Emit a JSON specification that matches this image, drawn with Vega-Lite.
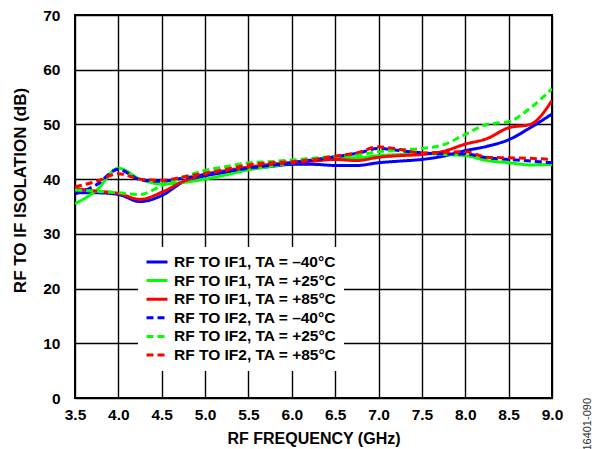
{
  "$schema": "https://vega.github.io/schema/vega-lite/v6.json",
  "autosize": "none",
  "width": 477,
  "height": 383,
  "padding": {"left": 75, "top": 15, "right": 47, "bottom": 51},
  "background": "white",
  "title": {"text": "16401-090", "orient": "right", "anchor": "end", "frame": "group", "angle": -90, "fontSize": 11, "fontWeight": "normal", "font": "Liberation Sans", "color": "#333", "offset": 20, "dy": -12},
  "datasets": {
    "curves": [
      {"f":3.5,"v":37.5,"s":"IF1 -40"},{"f":3.75,"v":37.5,"s":"IF1 -40"},{"f":4.0,"v":37.2,"s":"IF1 -40"},{"f":4.25,"v":35.9,"s":"IF1 -40"},{"f":4.5,"v":37.0,"s":"IF1 -40"},{"f":4.75,"v":39.5,"s":"IF1 -40"},{"f":5.0,"v":40.6,"s":"IF1 -40"},{"f":5.25,"v":41.3,"s":"IF1 -40"},{"f":5.5,"v":41.9,"s":"IF1 -40"},{"f":5.75,"v":42.3,"s":"IF1 -40"},{"f":6.0,"v":42.7,"s":"IF1 -40"},{"f":6.25,"v":42.7,"s":"IF1 -40"},{"f":6.5,"v":42.5,"s":"IF1 -40"},{"f":6.75,"v":42.5,"s":"IF1 -40"},{"f":7.0,"v":43.0,"s":"IF1 -40"},{"f":7.25,"v":43.3,"s":"IF1 -40"},{"f":7.5,"v":43.6,"s":"IF1 -40"},{"f":7.75,"v":44.2,"s":"IF1 -40"},{"f":8.0,"v":45.2,"s":"IF1 -40"},{"f":8.25,"v":46.0,"s":"IF1 -40"},{"f":8.5,"v":47.2,"s":"IF1 -40"},{"f":8.75,"v":49.4,"s":"IF1 -40"},{"f":9.0,"v":51.9,"s":"IF1 -40"},

      {"f":3.5,"v":35.5,"s":"IF1 +25"},{"f":3.75,"v":38.0,"s":"IF1 +25"},{"f":4.0,"v":42.0,"s":"IF1 +25"},{"f":4.25,"v":40.0,"s":"IF1 +25"},{"f":4.5,"v":39.1,"s":"IF1 +25"},{"f":4.75,"v":39.4,"s":"IF1 +25"},{"f":5.0,"v":40.0,"s":"IF1 +25"},{"f":5.25,"v":40.8,"s":"IF1 +25"},{"f":5.5,"v":41.7,"s":"IF1 +25"},{"f":5.75,"v":42.3,"s":"IF1 +25"},{"f":6.0,"v":43.0,"s":"IF1 +25"},{"f":6.25,"v":43.5,"s":"IF1 +25"},{"f":6.5,"v":44.0,"s":"IF1 +25"},{"f":6.75,"v":43.9,"s":"IF1 +25"},{"f":7.0,"v":44.3,"s":"IF1 +25"},{"f":7.25,"v":44.5,"s":"IF1 +25"},{"f":7.5,"v":44.7,"s":"IF1 +25"},{"f":7.75,"v":44.5,"s":"IF1 +25"},{"f":8.0,"v":44.3,"s":"IF1 +25"},{"f":8.25,"v":43.4,"s":"IF1 +25"},{"f":8.5,"v":43.0,"s":"IF1 +25"},{"f":8.75,"v":42.6,"s":"IF1 +25"},{"f":9.0,"v":42.7,"s":"IF1 +25"},

      {"f":3.5,"v":38.3,"s":"IF1 +85"},{"f":3.75,"v":37.8,"s":"IF1 +85"},{"f":4.0,"v":37.4,"s":"IF1 +85"},{"f":4.25,"v":36.3,"s":"IF1 +85"},{"f":4.5,"v":37.6,"s":"IF1 +85"},{"f":4.75,"v":39.6,"s":"IF1 +85"},{"f":5.0,"v":40.9,"s":"IF1 +85"},{"f":5.25,"v":41.6,"s":"IF1 +85"},{"f":5.5,"v":42.2,"s":"IF1 +85"},{"f":5.75,"v":42.7,"s":"IF1 +85"},{"f":6.0,"v":43.0,"s":"IF1 +85"},{"f":6.25,"v":43.3,"s":"IF1 +85"},{"f":6.5,"v":43.6,"s":"IF1 +85"},{"f":6.75,"v":43.4,"s":"IF1 +85"},{"f":7.0,"v":44.0,"s":"IF1 +85"},{"f":7.25,"v":44.3,"s":"IF1 +85"},{"f":7.5,"v":44.5,"s":"IF1 +85"},{"f":7.75,"v":45.1,"s":"IF1 +85"},{"f":8.0,"v":46.4,"s":"IF1 +85"},{"f":8.25,"v":47.4,"s":"IF1 +85"},{"f":8.5,"v":49.4,"s":"IF1 +85"},{"f":8.75,"v":50.0,"s":"IF1 +85"},{"f":9.0,"v":54.4,"s":"IF1 +85"},

      {"f":3.5,"v":37.3,"s":"IF2 -40"},{"f":3.75,"v":39.0,"s":"IF2 -40"},{"f":4.0,"v":41.8,"s":"IF2 -40"},{"f":4.25,"v":39.9,"s":"IF2 -40"},{"f":4.5,"v":39.6,"s":"IF2 -40"},{"f":4.75,"v":40.2,"s":"IF2 -40"},{"f":5.0,"v":40.8,"s":"IF2 -40"},{"f":5.25,"v":41.4,"s":"IF2 -40"},{"f":5.5,"v":42.0,"s":"IF2 -40"},{"f":5.75,"v":42.5,"s":"IF2 -40"},{"f":6.0,"v":43.0,"s":"IF2 -40"},{"f":6.25,"v":43.5,"s":"IF2 -40"},{"f":6.5,"v":44.1,"s":"IF2 -40"},{"f":6.75,"v":44.7,"s":"IF2 -40"},{"f":7.0,"v":45.6,"s":"IF2 -40"},{"f":7.25,"v":45.2,"s":"IF2 -40"},{"f":7.5,"v":44.8,"s":"IF2 -40"},{"f":7.75,"v":44.6,"s":"IF2 -40"},{"f":8.0,"v":44.6,"s":"IF2 -40"},{"f":8.25,"v":43.9,"s":"IF2 -40"},{"f":8.5,"v":43.6,"s":"IF2 -40"},{"f":8.75,"v":43.3,"s":"IF2 -40"},{"f":9.0,"v":43.0,"s":"IF2 -40"},

      {"f":3.5,"v":38.0,"s":"IF2 +25"},{"f":3.75,"v":37.8,"s":"IF2 +25"},{"f":4.0,"v":37.5,"s":"IF2 +25"},{"f":4.25,"v":37.2,"s":"IF2 +25"},{"f":4.5,"v":38.8,"s":"IF2 +25"},{"f":4.75,"v":40.4,"s":"IF2 +25"},{"f":5.0,"v":41.6,"s":"IF2 +25"},{"f":5.25,"v":42.3,"s":"IF2 +25"},{"f":5.5,"v":43.0,"s":"IF2 +25"},{"f":5.75,"v":43.2,"s":"IF2 +25"},{"f":6.0,"v":43.5,"s":"IF2 +25"},{"f":6.25,"v":43.8,"s":"IF2 +25"},{"f":6.5,"v":44.2,"s":"IF2 +25"},{"f":6.75,"v":44.4,"s":"IF2 +25"},{"f":7.0,"v":45.0,"s":"IF2 +25"},{"f":7.25,"v":45.4,"s":"IF2 +25"},{"f":7.5,"v":45.6,"s":"IF2 +25"},{"f":7.75,"v":46.3,"s":"IF2 +25"},{"f":8.0,"v":48.2,"s":"IF2 +25"},{"f":8.25,"v":50.0,"s":"IF2 +25"},{"f":8.5,"v":50.5,"s":"IF2 +25"},{"f":8.75,"v":53.0,"s":"IF2 +25"},{"f":9.0,"v":56.5,"s":"IF2 +25"},

      {"f":3.5,"v":38.6,"s":"IF2 +85"},{"f":3.75,"v":39.6,"s":"IF2 +85"},{"f":4.0,"v":41.0,"s":"IF2 +85"},{"f":4.25,"v":40.0,"s":"IF2 +85"},{"f":4.5,"v":39.8,"s":"IF2 +85"},{"f":4.75,"v":40.4,"s":"IF2 +85"},{"f":5.0,"v":41.1,"s":"IF2 +85"},{"f":5.25,"v":41.8,"s":"IF2 +85"},{"f":5.5,"v":42.6,"s":"IF2 +85"},{"f":5.75,"v":43.0,"s":"IF2 +85"},{"f":6.0,"v":43.2,"s":"IF2 +85"},{"f":6.25,"v":43.6,"s":"IF2 +85"},{"f":6.5,"v":44.2,"s":"IF2 +85"},{"f":6.75,"v":44.8,"s":"IF2 +85"},{"f":7.0,"v":45.9,"s":"IF2 +85"},{"f":7.25,"v":45.4,"s":"IF2 +85"},{"f":7.5,"v":44.8,"s":"IF2 +85"},{"f":7.75,"v":44.9,"s":"IF2 +85"},{"f":8.0,"v":45.0,"s":"IF2 +85"},{"f":8.25,"v":44.0,"s":"IF2 +85"},{"f":8.5,"v":43.9,"s":"IF2 +85"},{"f":8.75,"v":43.8,"s":"IF2 +85"},{"f":9.0,"v":43.6,"s":"IF2 +85"}
    ]
  },
  "data": {"name": "curves"},
  "transform": [
    {"calculate": "indexof(['IF1 -40','IF1 +25','IF1 +85','IF2 -40','IF2 +25','IF2 +85'], datum.s)", "as": "ord"},
    {"calculate": "datum.s == 'IF1 -40' ? 'RF TO IF1, TA = –40°C' : datum.s == 'IF1 +25' ? 'RF TO IF1, TA = +25°C' : datum.s == 'IF1 +85' ? 'RF TO IF1, TA = +85°C' : datum.s == 'IF2 -40' ? 'RF TO IF2, TA = –40°C' : datum.s == 'IF2 +25' ? 'RF TO IF2, TA = +25°C' : 'RF TO IF2, TA = +85°C'", "as": "series"}
  ],
  "mark": {"type": "line", "interpolate": "monotone", "strokeWidth": 3, "strokeCap": "butt", "clip": true},
  "encoding": {
    "x": {
      "field": "f", "type": "quantitative",
      "scale": {"domain": [3.5, 9.0], "nice": false, "zero": false},
      "axis": {"values": [3.5,4.0,4.5,5.0,5.5,6.0,6.5,7.0,7.5,8.0,8.5,9.0], "format": ".1f", "title": "RF FREQUENCY (GHz)", "labelPadding": 9, "titlePadding": 8, "labelFlush": false}
    },
    "y": {
      "field": "v", "type": "quantitative",
      "scale": {"domain": [0, 70], "nice": false},
      "axis": {"values": [0,10,20,30,40,50,60,70], "title": "RF TO IF ISOLATION (dB)", "labelPadding": 15, "titlePadding": 13, "labelFlush": false, "titleY": 175, "titleFontSize": 17}
    },
    "color": {
      "field": "series", "type": "nominal",
      "scale": {
        "domain": ["RF TO IF1, TA = –40°C","RF TO IF1, TA = +25°C","RF TO IF1, TA = +85°C","RF TO IF2, TA = –40°C","RF TO IF2, TA = +25°C","RF TO IF2, TA = +85°C"],
        "range": ["#0000FF","#00FF00","#FF0000","#0000FF","#00FF00","#FF0000"]
      },
      "legend": {"title": null}
    },
    "strokeDash": {
      "field": "series", "type": "nominal",
      "scale": {
        "domain": ["RF TO IF1, TA = –40°C","RF TO IF1, TA = +25°C","RF TO IF1, TA = +85°C","RF TO IF2, TA = –40°C","RF TO IF2, TA = +25°C","RF TO IF2, TA = +85°C"],
        "range": [[1,0],[1,0],[1,0],[7,4],[7,4],[7,4]]
      },
      "legend": {"title": null}
    },
    "order": {"field": "ord", "type": "quantitative"}
  },
  "config": {
    "font": "Liberation Sans",
    "view": {"stroke": "#000", "strokeWidth": 2},
    "axis": {
      "grid": true, "gridColor": "#000", "gridWidth": 1.4, "gridOpacity": 1,
      "domain": false, "ticks": false,
      "labelFont": "Liberation Sans", "labelFontSize": 15.5, "labelFontWeight": "bold", "labelColor": "#000",
      "titleFont": "Liberation Sans", "titleFontSize": 16, "titleFontWeight": "bold", "titleColor": "#000"
    },
    "legend": {
      "orient": "none", "legendX": 63, "legendY": 232,
      "fillColor": "white", "padding": 7,
      "symbolType": "stroke", "symbolSize": 441, "symbolStrokeWidth": 3,
      "labelFont": "Liberation Sans", "labelFontSize": 15.5, "labelFontWeight": "bold", "labelColor": "#000",
      "labelOffset": 5, "rowPadding": 1.6, "clipHeight": 16, "labelLimit": 300
    }
  }
}
